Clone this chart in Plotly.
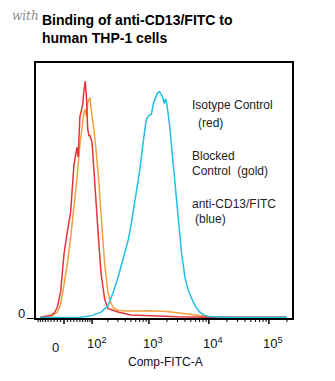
import numpy as np
import plotly.graph_objects as go

# ---------------- data (FITC intensity, % of max) ----------------
red_fitc = [-80, -60, -40, -30, -20, -10, 0, 10, 20, 30, 40, 44, 50, 55, 60, 65, 70, 75, 80, 85, 90,
            100, 110, 120, 135, 150, 175, 200, 250, 300, 500, 1000, 3000, 10000, 200000]
red_pct = [0.3, 0.6, 1.2, 2, 4.5, 11, 27, 36.5, 45, 64.5, 72, 68, 85, 87.5, 90, 96, 100, 93, 80, 77, 77,
           74, 60, 47, 33, 19, 8, 4, 3.2, 2.5, 1.3, 0.9, 0.5, 0.35, 0.3]

gold_fitc = [-80, -40, -20, -10, 0, 10, 20, 30, 40, 50, 60, 65, 70, 75, 80, 90, 100, 110, 120, 135,
             150, 175, 200, 225, 250, 300, 400, 500, 700, 1000, 1500, 2000, 3000, 5000, 7000,
             10000, 20000, 200000]
gold_pct = [0.2, 0.6, 2.5, 5.5, 14, 23, 34, 46, 59, 73, 83, 87, 88, 85, 91, 93, 85, 79, 71, 59,
            44, 23, 11, 6.5, 4.2, 3.3, 3.0, 2.9, 3.0, 3.1, 3.0, 2.7, 2.2, 1.4, 0.9,
            0.5, 0.3, 0.3]

blue_fitc = [-80, 0, 50, 100, 150, 200, 250, 300, 350, 400, 450, 500, 600, 700, 800, 900, 1000,
             1100, 1200, 1300, 1400, 1500, 1600, 1700, 1800, 1900, 2000, 2200, 2400, 2600, 2800,
             3000, 3500, 4000, 4500, 5000, 6000, 7000, 8000, 10000, 20000, 200000]
blue_pct = [0.2, 0.2, 0.3, 1, 2.5, 5, 11, 17, 23.5, 28.5, 33, 39, 51, 62, 74, 83.5, 85.5,
            86, 91, 93, 95, 95.5, 94.5, 93, 90.5, 92.5, 90, 82, 72, 64, 56,
            47, 27.5, 17, 12, 9, 4.8, 2.6, 1.5, 0.6, 0.3, 0.3]

major_ticks = [0, 100, 1000, 10000, 100000]
major_labels = ["0", "10<sup>2</sup>", "10<sup>3</sup>", "10<sup>4</sup>", "10<sup>5</sup>"]
minor_ticks = ([-90, -80, -70, -60, -50, -40, -30, -20, -10] + list(range(10, 100, 10)) +
               list(range(200, 1000, 100)) + list(range(2000, 10000, 1000)) +
               list(range(20000, 100000, 10000)) + [200000])

legend_lines = [("Isotype Control", 190, 105), ("(red)", 196, 123),
                ("Blocked", 190, 156), ("Control  (gold)", 190, 171),
                ("anti-CD13/FITC", 190, 204), ("(blue)", 193, 219)]

# ---------------- biexponential-like display transform ----------------
C = 77.0
def biex(v):
    return np.arcsinh(np.asarray(v, dtype=float) / C) / np.log(10)

W, H = 335, 381
L, R, T, B = 36, 292, 63, 318
PW, PH = R - L, B - T

def px(xp):
    return (xp - L) / PW

def py(yp):
    return (B - yp) / PH

FONT = "Liberation Sans, Arial, sans-serif"

fig = go.Figure()
fig.add_trace(go.Scatter(x=biex(gold_fitc), y=gold_pct, mode="lines",
                         line=dict(color="#f3a03c", width=1.5), showlegend=False))
fig.add_trace(go.Scatter(x=biex(red_fitc), y=red_pct, mode="lines",
                         line=dict(color="#e3343a", width=1.5), showlegend=False))
fig.add_trace(go.Scatter(x=biex(blue_fitc), y=blue_pct, mode="lines",
                         line=dict(color="#22bfe3", width=1.5), showlegend=False))

shapes = []
for v in major_ticks:
    t = float(biex(v))
    shapes.append(dict(type="line", xref="x", yref="paper", x0=t, x1=t, y0=0, y1=-6 / PH,
                       line=dict(color="black", width=1.5)))
for v in minor_ticks:
    t = float(biex(v))
    shapes.append(dict(type="line", xref="x", yref="paper", x0=t, x1=t, y0=0, y1=-4 / PH,
                       line=dict(color="black", width=1)))

ann = []
for v, lab in zip(major_ticks, major_labels):
    if v == 0:
        ann.append(dict(x=float(biex(v)), xref="x", y=py(347), yref="paper", text=lab,
                        showarrow=False, xanchor="center", yanchor="middle", xshift=-9,
                        font=dict(family=FONT, size=13, color="#111")))
    else:
        ann.append(dict(x=float(biex(v)), xref="x", y=py(343), yref="paper", text=lab,
                        showarrow=False, xanchor="left", yanchor="middle", xshift=-7.5,
                        font=dict(family=FONT, size=13, color="#111")))
# y-axis "0" label (sits a little above its tick, as in the reference)
ann.append(dict(x=px(21), y=py(313.5), xref="paper", yref="paper", text="0",
                showarrow=False, xanchor="center", yanchor="middle",
                font=dict(family=FONT, size=13, color="#111")))
ann.append(dict(x=px(165), y=py(362), xref="paper", yref="paper", text="Comp-FITC-A",
                showarrow=False, xanchor="center", yanchor="middle",
                font=dict(family=FONT, size=12, color="#111")))
ann.append(dict(x=px(40), y=py(20), xref="paper", yref="paper",
                text="<b>Binding of anti-CD13/FITC to</b>", showarrow=False,
                xanchor="left", yanchor="middle", font=dict(family=FONT, size=14, color="black")))
ann.append(dict(x=px(40), y=py(38), xref="paper", yref="paper",
                text="<b>human THP-1 cells</b>", showarrow=False,
                xanchor="left", yanchor="middle", font=dict(family=FONT, size=14, color="black")))
ann.append(dict(x=px(10), y=py(16), xref="paper", yref="paper", text="<i>with</i>",
                showarrow=False, xanchor="left", yanchor="middle",
                font=dict(family="DejaVu Serif, serif", size=12, color="#8a8a8a")))
for txt, xx, yy in legend_lines:
    ann.append(dict(x=px(xx), y=py(yy), xref="paper", yref="paper", text=txt,
                    showarrow=False, xanchor="left", yanchor="middle",
                    font=dict(family=FONT, size=12, color="#222")))

fig.update_layout(
    width=W, height=H,
    margin=dict(l=L, r=W - R, t=T, b=H - B, pad=0),
    paper_bgcolor="white", plot_bgcolor="white",
    xaxis=dict(range=[(L - 64) / 60, (R - 64) / 60], showgrid=False, zeroline=False,
               showline=True, mirror=True, linecolor="black", linewidth=1.5,
               showticklabels=False, ticks=""),
    yaxis=dict(range=[0, 107.6], showgrid=False, zeroline=False,
               showline=True, mirror=True, linecolor="black", linewidth=1.5,
               tickvals=[0], showticklabels=False, ticks="outside", ticklen=7,
               tickcolor="black", tickwidth=1.2),
    shapes=shapes, annotations=ann,
)

fig.write_html("out.html")
